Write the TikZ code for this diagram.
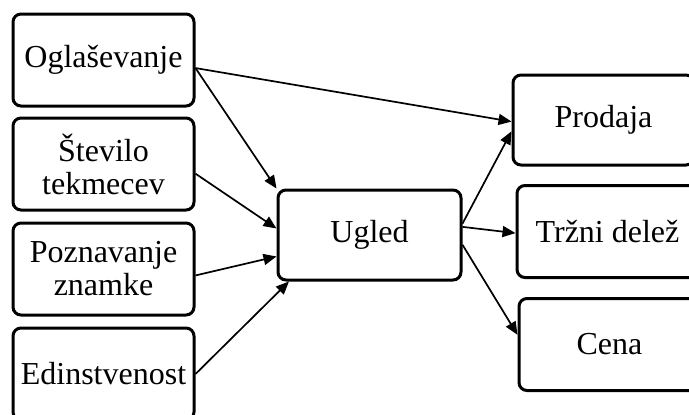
\documentclass[tikz,border=0pt]{standalone}
\usepackage{fontspec}
\setmainfont{Liberation Serif}
\usetikzlibrary{arrows.meta}

\begin{document}
\begin{tikzpicture}[x=0.5pt,y=-0.5pt,>={Triangle[length=6.5pt,width=5.5pt]},
  blok/.style={draw,rounded corners=4pt,line width=1.5pt,minimum width=90.5pt,
    minimum height=46pt,inner sep=0pt,align=center,font=\fontsize{16}{16.5}\selectfont},
  povezava/.style={->,line width=0.85pt}]
\useasboundingbox (0,0) rectangle (689,414);
\clip (0,0) rectangle (689,414);
\node   (ogl) at (103.5,60)    [blok] {Oglaševanje};
\node   (stv) at (103.5,164)   [blok] {Število\\tekmecev};
\node   (pzn) at (103.5,269)   [blok] {Poznavanje\\znamke};
\node   (edn) at (103.5,374)   [blok] {Edinstvenost};
\node (ugled) at (369.5,235)   [blok,minimum width=91.5pt,minimum height=45pt] {Ugled};
\node  (prod) at (603.5,120)   [blok,minimum height=45pt] {Prodaja};
\node   (trz) at (607.5,231.5) [blok] {Tržni delež};
\node  (cena) at (609.5,344.5) [blok] {Cena};
\draw [povezava]   (ogl.-5) -- (prod.181);
\draw [povezava]   (ogl.-5) -- (ugled.north west);
\draw [povezava]   (stv.-6) -- (ugled.176);
\draw [povezava]   (pzn.-4) -- (ugled.193);
\draw [povezava] (edn.east) -- (ugled.210);
\draw [povezava]  (ugled.7) -- (prod.187);
\draw [povezava]  (ugled.5) -- (trz.181);
\draw [povezava] (ugled.-6) -- (cena.174);
\end{tikzpicture}
\end{document}
